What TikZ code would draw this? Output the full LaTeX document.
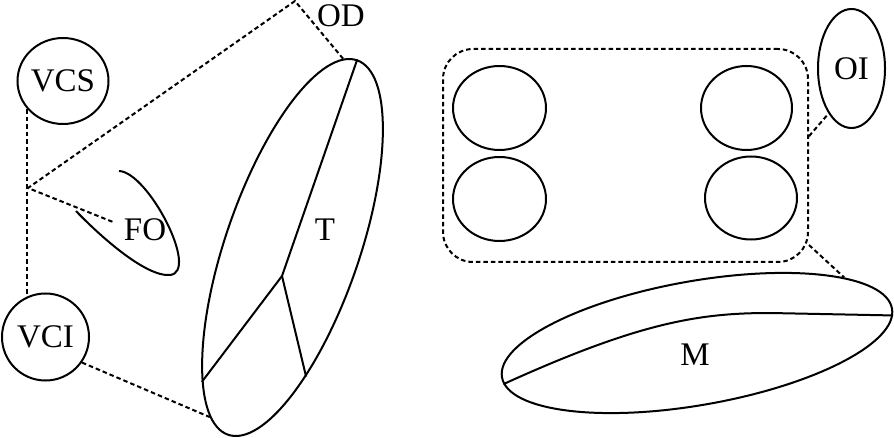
\documentclass[tikz,border=0pt]{standalone}
\usepackage{fontspec}
\setmainfont{Liberation Serif}
\usetikzlibrary{shapes.geometric}
\begin{document}
\begin{tikzpicture}[x=1pt,y=-1pt,
  every node/.style={font=\fontsize{33}{39}\selectfont, inner sep=0pt},
  organ/.style={draw, line width=2pt, ellipse},
  solidline/.style={line width=2pt},
  dashline/.style={line width=2pt, dash pattern=on 4.5pt off 3pt},
  lbl/.style={}]
\useasboundingbox (0,0) rectangle (894,438);

% left group
\node[organ, minimum width=91pt, minimum height=86pt] (vcs) at (63,81) {VCS};
\node[organ, minimum width=87pt, minimum height=87pt] (vci) at (45.5,337) {VCI};
\node[organ, minimum width=396pt, minimum height=134pt, rotate=71] (tel) at (292.5,247.5) {};
\node[lbl] (t) at (325,230) {T};
\node[lbl] (od) at (341,16) {OD};
\node[lbl] (fo) at (145,230) {FO};

\coordinate (j) at (28,188);
\coordinate (odc) at (295,1);
\coordinate (foend) at (113,222);
\coordinate (tmid) at (282,276);

% FO shape
\draw[solidline] (119,171) .. controls (148,172) and (200,272) .. (170,275)
  .. controls (145,277) and (98,234) .. (76,211);

% T inner lines
\draw[solidline] (tel.east) -- (tmid) -- (tel.165);
\draw[solidline] (tmid) -- (tel.205);

% dashed connectors left
\draw[dashline] (vcs.218) -- (vcs.218 |- vci.113);
\draw[dashline] (tel.4) -- (odc) -- (j) -- (foend);
\draw[dashline] (vci.-35) -- (tel.173);

% right group
\node[draw, dashline, rounded corners=30pt, minimum width=365pt, minimum height=213pt] (box) at (625.5,155.5) {};
\node[organ, minimum width=93pt, minimum height=84pt] (c1) at (499.5,108) {};
\node[organ, minimum width=93pt, minimum height=84pt] (c2) at (499.5,199) {};
\node[organ, minimum width=91pt, minimum height=84pt] (c3) at (746.5,108) {};
\node[organ, minimum width=92pt, minimum height=83pt] (c4) at (751,198) {};

\node[organ, minimum width=67pt, minimum height=119pt] (oi) at (851.5,68.5) {OI};
\node[organ, minimum width=396pt, minimum height=124pt, rotate=10] (m) at (697,343) {};
\node[lbl] (ml) at (695,355) {M};

\draw[solidline] (m.182) .. controls (640,322) and (700,313) .. (770,313) -- (m.-2);

\draw[dashline] (box.6) -- (oi.243);
\draw[dashline] (box.-26) -- (m.14);
\end{tikzpicture}
\end{document}
